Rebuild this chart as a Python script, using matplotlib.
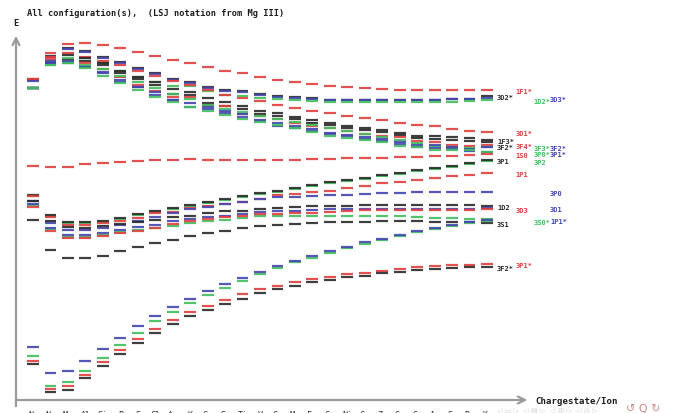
import numpy as np
import matplotlib.pyplot as plt

plt.rcParams['font.family'] = 'DejaVu Sans Mono'

# ions along the isoelectronic sequence
ions = ['Ne', 'Na', 'Mg', 'Al', 'Si', 'P', 'S', 'Cl', 'Ar', 'K', 'Ca', 'Sc', 'Ti', 'V',
        'Cr', 'Mn', 'Fe', 'Co', 'Ni', 'Cu', 'Zn', 'Ga', 'Ge', 'As', 'Se', 'Br', 'Kr']

# level energies (arb. units) per ion -- upper group
u_1F1 = [321, 347, 356, 357, 355, 352, 348, 344, 340, 337, 333, 329, 327, 323, 320, 318, 316, 314, 313, 312, 311, 310, 310, 310, 310, 310, 310]
u_3D2 = [320, 344, 352, 349, 343, 338, 332, 327, 321, 318, 313, 310, 309, 306, 304, 303, 302, 300, 300, 300, 300, 300, 300, 300, 301, 301, 304]
u_3D3 = [319, 343, 351, 348, 342, 337, 331, 326, 320, 317, 312, 309, 308, 305, 303, 302, 301, 300, 300, 300, 300, 300, 300, 300, 301, 301, 302]
u_1D2 = [312, 339, 342, 342, 337, 329, 323, 318, 314, 314, 309, 305, 304, 302, 301, 300, 299, 298, 298, 298, 298, 298, 298, 298, 298, 299, 300]
u_3D1 = [312, 343, 347, 343, 339, 335, 329, 324, 319, 315, 310, 305, 302, 299, 295, 292, 289, 287, 284, 282, 280, 277, 275, 274, 271, 269, 268]
u_1F3 = [312, 337, 345, 342, 337, 329, 323, 318, 311, 308, 302, 298, 294, 289, 287, 283, 280, 277, 274, 272, 270, 267, 264, 264, 263, 262, 260]
u_3F2k = [312, 337, 340, 339, 335, 327, 321, 315, 306, 305, 297, 294, 291, 286, 284, 281, 277, 275, 272, 270, 268, 265, 262, 261, 260, 259, 258]
u_3F4 = [321, 341, 339, 337, 331, 323, 315, 309, 303, 303, 295, 294, 286, 284, 281, 277, 274, 272, 269, 266, 264, 263, 259, 258, 255, 254, 255]
u_3F3 = [312, 335, 339, 335, 331, 324, 318, 312, 306, 301, 295, 291, 288, 284, 281, 278, 275, 272, 269, 266, 263, 260, 257, 254, 253, 252, 253]
u_3F2b = [312, 339, 337, 333, 328, 320, 313, 308, 300, 297, 293, 289, 286, 280, 277, 274, 271, 267, 265, 263, 261, 258, 255, 255, 253, 251, 253]
u_3P1 = [312, 337, 339, 333, 327, 318, 313, 305, 300, 293, 291, 287, 283, 279, 274, 272, 269, 266, 264, 261, 259, 256, 253, 252, 251, 249, 248]
u_3P0 = [312, 335, 337, 332, 324, 317, 310, 303, 298, 293, 289, 285, 281, 278, 275, 272, 268, 264, 262, 260, 258, 254, 253, 250, 250, 250, 248]

# middle group
m_3P1 = [205, 185, 178, 178, 179, 182, 186, 189, 192, 195, 198, 201, 204, 207, 209, 212, 215, 218, 220, 222, 225, 227, 230, 232, 234, 237, 240]
m_3P2 = [204, 184, 177, 177, 178, 181, 185, 188, 191, 194, 197, 200, 203, 206, 208, 211, 214, 217, 219, 221, 224, 226, 229, 231, 233, 236, 239]
m_1S0 = [234, 233, 233, 236, 237, 238, 239, 240, 240, 241, 240, 240, 240, 240, 240, 240, 241, 241, 242, 242, 242, 243, 243, 244, 244, 245, 246]
m_1P1 = [204, 183, 175, 175, 177, 179, 182, 187, 188, 192, 194, 196, 198, 201, 205, 206, 208, 209, 212, 214, 217, 218, 220, 222, 224, 225, 227]
m_3P0 = [199, 177, 170, 170, 172, 175, 179, 183, 187, 191, 193, 196, 198, 201, 203, 203, 204, 205, 205, 206, 207, 207, 208, 208, 208, 208, 208]
m_1D2 = [199, 179, 173, 172, 174, 176, 178, 180, 183, 184, 187, 189, 189, 191, 192, 193, 194, 194, 194, 195, 195, 195, 195, 195, 195, 195, 194]
m_3D1 = [196, 172, 165, 165, 167, 170, 173, 175, 179, 181, 183, 184, 186, 188, 189, 189, 190, 191, 191, 191, 191, 191, 191, 191, 191, 191, 192]
m_3D3 = [193, 169, 162, 162, 164, 167, 169, 172, 176, 179, 181, 183, 184, 186, 186, 187, 187, 188, 189, 190, 190, 190, 190, 190, 190, 190, 191]
m_3D2 = [195, 171, 163, 163, 165, 168, 170, 172, 174, 177, 179, 180, 182, 184, 184, 184, 184, 184, 184, 184, 184, 184, 183, 182, 182, 181, 181]
m_3S1 = [180, 150, 142, 142, 144, 149, 153, 157, 160, 164, 167, 169, 172, 174, 175, 176, 177, 178, 178, 178, 179, 179, 179, 178, 178, 178, 177]

# lower group
l_1P1 = [53, 27, 29, 39, 51, 62, 74, 84, 93, 101, 109, 116, 122, 128, 134, 139, 144, 149, 153, 158, 161, 165, 169, 172, 175, 178, 180]
l_3S0 = [44, 14, 18, 29, 42, 55, 67, 79, 88, 97, 105, 112, 119, 126, 132, 138, 142, 147, 152, 156, 160, 164, 168, 171, 174, 177, 179]
l_3P1 = [39, 11, 14, 25, 38, 50, 61, 71, 80, 88, 94, 100, 106, 111, 114, 118, 121, 123, 126, 127, 129, 131, 133, 134, 135, 135, 136]
l_3F2 = [36, 8, 10, 22, 34, 46, 57, 67, 76, 84, 90, 96, 101, 107, 111, 114, 118, 120, 123, 124, 127, 128, 130, 131, 132, 133, 133]

levels = [
    ('1F1*', 'r', u_1F1), ('3D2*', 'k', u_3D2), ('3D3*', 'b', u_3D3), ('1D2*', 'g', u_1D2),
    ('3D1*', 'r', u_3D1), ('1F3*', 'k', u_1F3), ('3F2*', 'k', u_3F2k), ('3F4*', 'r', u_3F4),
    ('3F3*', 'g', u_3F3), ('3F2*', 'b', u_3F2b), ('3P1*', 'b', u_3P1), ('3P0*', 'g', u_3P0),
    ('3P2', 'g', m_3P2), ('3P1', 'k', m_3P1), ('1S0', 'r', m_1S0), ('1P1', 'r', m_1P1),
    ('3P0', 'b', m_3P0), ('1D2', 'k', m_1D2), ('', 'g', m_3D2), ('3D1', 'b', m_3D1),
    ('3D3', 'r', m_3D3), ('3S1', 'k', m_3S1),
    ('3S0*', 'g', l_3S0), ('1P1*', 'b', l_1P1), ('3P1*', 'r', l_3P1), ('3F2*', 'k', l_3F2),
]

colors = {'k': '#2a2a2a', 'r': '#e23e3e', 'g': '#3fbf5c', 'b': '#4446b0'}
label_off = {'k': 0.57, 'r': 1.61, 'g': 2.64, 'b': 3.61}

W, H = 673, 414
fig = plt.figure(figsize=(W / 100, H / 100), dpi=100)
ax = fig.add_axes([16 / W, 13 / H, 511 / W, 367 / H])
ax.set_xlim(0.026, 29.29)
ax.set_ylim(0, 367)
ax.axis('off')

cols = np.arange(1, len(ions) + 1)
half = 0.34
for term, c, vals in levels:
    ax.hlines(vals, cols - half, cols + half, colors=colors[c], lw=1.6, alpha=0.9)

# term labels next to the last ion, stacked per colour so they don't collide
for c in 'krgb':
    items = sorted([(vals[-1], term) for term, cc, vals in levels if cc == c and term],
                   reverse=True)
    prev = None
    for e, term in items:
        if prev is not None and prev - e < 6:
            e = prev - 6
        ax.text(cols[-1] + label_off[c], e - 1.5, term, color=colors[c], fontsize=5,
                fontweight='bold', ha='left', va='center', clip_on=False)
        prev = e

# ion names under the axis (only their tops fit on the page)
for x, ion in zip(cols, ions):
    ax.text(x, -10, ion, ha='center', va='top', fontsize=6, color='#333333', clip_on=False)

# axis arrows
arr = dict(arrowstyle='->,head_length=0.5,head_width=0.25', color='#9a9a9a', lw=1.6)
ax.annotate('', xy=(0, 1.0), xytext=(0, -9 / 367), xycoords='axes fraction',
            textcoords='axes fraction', arrowprops=arr, annotation_clip=False)
ax.annotate('', xy=(1.006, 0), xytext=(-3 / 511, 0), xycoords='axes fraction',
            textcoords='axes fraction', arrowprops=arr, annotation_clip=False)

fig.text(27 / W, 1 - 14 / H, 'All configuration(s),  (LSJ notation from Mg III)',
         fontsize=6.2, fontweight='bold', ha='left', va='center', color='#1e1e1e')
fig.text(16 / W, 1 - 23 / H, 'E', fontsize=6.2, fontweight='bold', ha='center',
         va='center', color='#1e1e1e')
fig.text(535 / W, 1 - 402 / H, 'Chargestate/Ion', fontsize=6.6, fontweight='bold',
         ha='left', va='center', color='#1e1e1e')

# slide navigation symbols
fig.text(497 / W, 1 - 411 / H, '◁ ▭ ▷  ◁ ▤ ▷  ◁ ▥ ▷  ◁ ◎ ▷', family='DejaVu Sans',
         fontsize=5, color='#d4d4de', ha='left', va='center')
fig.text(626 / W, 1 - 409 / H, '↺ Q ↻', family='DejaVu Sans', fontsize=8,
         color='#c88a8a', ha='left', va='center')

fig.savefig('out.png', dpi=100)
